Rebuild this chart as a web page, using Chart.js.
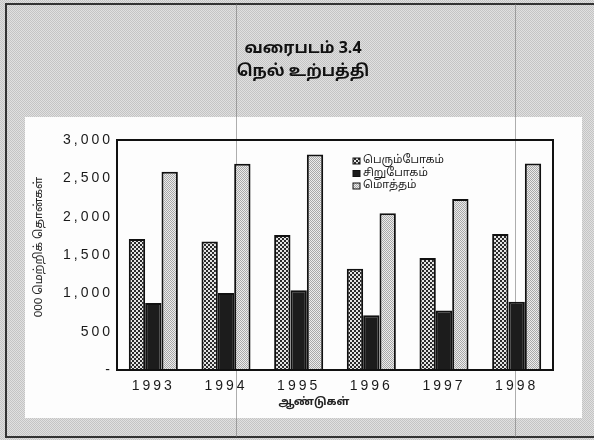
<!DOCTYPE html>
<html>
<head>
<meta charset="utf-8">
<script src="https://cdn.jsdelivr.net/npm/chart.js@4.4.1/dist/chart.umd.min.js"></script>
<style>
  html, body { margin: 0; padding: 0; background: #fff; }
</style>
</head>
<body>
<canvas id="chart" width="594" height="440"></canvas>
<script>
// data (thousand metric tonnes)
const years = ['1993', '1994', '1995', '1996', '1997', '1998'];
const perumValues = [1710, 1675, 1760, 1320, 1460, 1775];
const siruValues = [875, 1005, 1040, 715, 775, 890];
const totalValues = [2585, 2690, 2810, 2045, 2230, 2695];
const seriesNames = ['பெரும்போகம்', 'சிறுபோகம்', 'மொத்தம்'];
const yTickLabels = ['-', '500', '1,000', '1,500', '2,000', '2,500', '3,000'];
const titleLines = ['வரைபடம் 3.4', 'நெல் உற்பத்தி'];
const yTitle = '000 மெற்றிக் தொன்கள்';
const xTitle = 'ஆண்டுகள்';

const tamilFont = "'Noto Sans Tamil', 'Lohit Tamil', 'Noto Sans', sans-serif";
const numFont = "'Liberation Sans', Arial, sans-serif";

// small checkerboard patterns to mimic the printed screens
function dither(a, b, cell){
    const c = document.createElement('canvas');
    c.width = c.height = cell * 2;
    const g = c.getContext('2d');
    g.fillStyle = a;
    g.fillRect(0, 0, cell * 2, cell * 2);
    g.fillStyle = b;
    g.fillRect(0, 0, cell, cell);
    g.fillRect(cell, cell, cell, cell);
    return g.createPattern(c, 'repeat');
}

const ctx = document.getElementById('chart').getContext('2d');
const bgPattern = dither('#e0e0e0', '#c4c4c4', 1);
const perumPattern = dither('#e4e4e4', '#2a2a2a', 2);
const totalPattern = dither('#ececec', '#a8a8a8', 1);
const siruColor = '#1c1c1c';
const fills = [perumPattern, siruColor, totalPattern];

const framePlugin = {
    id: 'frame',
    beforeDraw(chart){
        const c = chart.ctx;
        c.save();
        c.fillStyle = bgPattern;
        c.fillRect(0, 0, chart.width, chart.height);
        // white panel behind the plot
        c.fillStyle = '#fdfdfd';
        c.fillRect(25, 117, 557, 301);
        // outer frame
        c.strokeStyle = '#333';
        c.lineWidth = 2;
        c.beginPath();
        c.moveTo(chart.width, 4);
        c.lineTo(6, 4);
        c.lineTo(6, 437);
        c.lineTo(chart.width, 437);
        c.stroke();
        // fold lines of the scanned page
        c.strokeStyle = 'rgba(120,120,120,0.6)';
        c.lineWidth = 1;
        c.beginPath();
        c.moveTo(236.5, 4); c.lineTo(236.5, 437);
        c.moveTo(515.5, 4); c.lineTo(515.5, 437);
        c.stroke();

        // two-line heading in the grey band
        c.fillStyle = '#111';
        c.textAlign = 'center';
        c.textBaseline = 'middle';
        c.font = 'bold 16px ' + tamilFont;
        c.fillText(titleLines[0], 303, 50);
        c.fillText(titleLines[1], 303, 73);
        c.restore();
    },
    afterDatasetsDraw(chart){
        // spaced-out figures on the axes (tick layers are drawn after this)
        chart.ctx.letterSpacing = '3px';
    },
    afterDraw(chart){
        const c = chart.ctx;
        const a = chart.chartArea;
        c.letterSpacing = '0px';
        c.save();
        c.strokeStyle = '#111';
        c.lineWidth = 2;
        c.strokeRect(a.left, a.top, a.right - a.left, a.bottom - a.top);

        // legend inside the plot
        c.font = '11px ' + tamilFont;
        c.textBaseline = 'middle';
        seriesNames.forEach((name, i) => {
            const y = a.top + 21 + i * 12.5;
            const x = a.left + 236;
            c.fillStyle = fills[i];
            c.fillRect(x, y - 3, 7, 6);
            c.strokeStyle = '#111';
            c.lineWidth = 1;
            c.strokeRect(x, y - 3, 7, 6);
            c.fillStyle = '#222';
            c.fillText(name, x + 10, y);
        });

        // axis titles
        c.font = '11.5px ' + tamilFont;
        c.textAlign = 'center';
        c.save();
        c.translate(40, (a.top + a.bottom) / 2 - 8);
        c.rotate(-Math.PI / 2);
        c.fillText(yTitle, 0, 0);
        c.restore();
        c.font = 'bold 11px ' + tamilFont;
        c.fillText(xTitle, (a.left + a.right) / 2 - 21, a.bottom + 33);
        c.restore();
    }
};

new Chart(ctx, {
    type: 'bar',
    data: {
        labels: years,
        datasets: [
            { label: seriesNames[0], data: perumValues, backgroundColor: perumPattern },
            { label: seriesNames[1], data: siruValues, backgroundColor: siruColor },
            { label: seriesNames[2], data: totalValues, backgroundColor: totalPattern }
        ]
    },
    options: {
        responsive: false,
        animation: false,
        devicePixelRatio: 1,
        layout: { padding: { left: 25, right: 41, bottom: 46, top: 140 } },
        datasets: {
            bar: {
                borderColor: '#111',
                borderWidth: 2,
                categoryPercentage: 0.675,
                barPercentage: 1.0
            }
        },
        plugins: {
            legend: { display: false },
            tooltip: { enabled: false },
            title: { display: false }
        },
        scales: {
            x: {
                grid: { display: false, drawTicks: false },
                border: { display: true, color: '#111', width: 2, z: 1 },
                ticks: {
                    z: 1,
                    color: '#1a1a1a',
                    font: { family: numFont, size: 14 },
                    padding: 8,
                    maxRotation: 0,
                    autoSkip: false
                },
                afterFit(scale){ scale.height = 24; }
            },
            y: {
                min: 0,
                max: 3000,
                grid: { display: false, drawTicks: false },
                border: { display: true, color: '#111', width: 2, z: 1 },
                ticks: {
                    z: 1,
                    stepSize: 500,
                    color: '#1a1a1a',
                    font: { family: numFont, size: 14 },
                    padding: 4,
                    callback: (value, index) => yTickLabels[index]
                },
                afterFit(scale){ scale.width = 92; }
            }
        }
    },
    plugins: [framePlugin]
});
</script>
</body>
</html>
